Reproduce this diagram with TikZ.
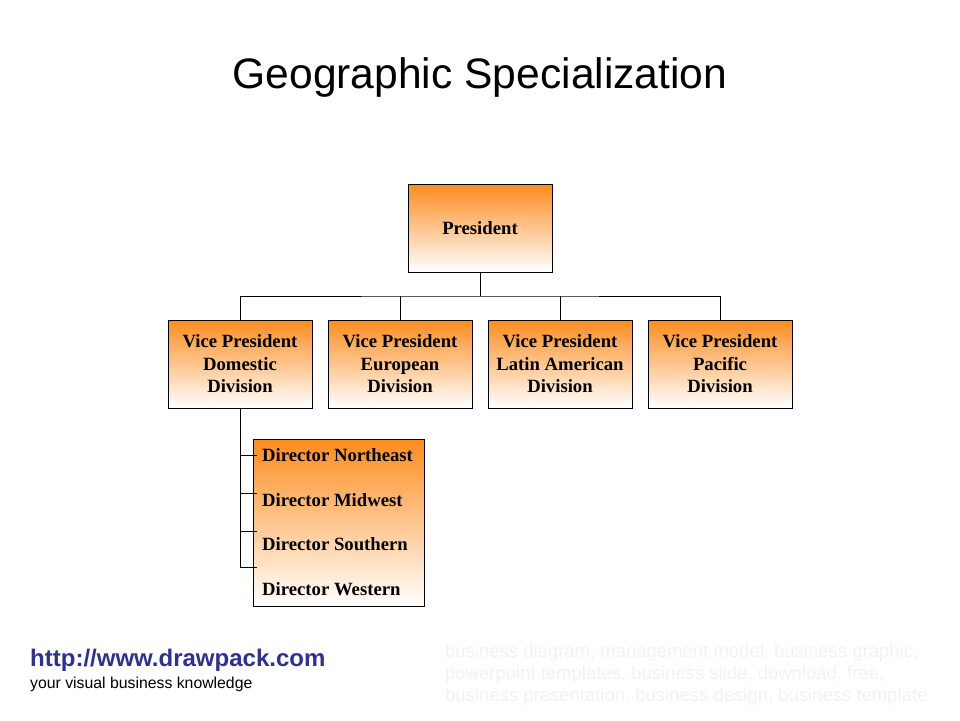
\documentclass[tikz,border=0pt]{standalone}
\usepackage{fontspec}
\setmainfont{Liberation Serif}
\setsansfont{Liberation Sans}
\usepackage{tikz}
\usetikzlibrary{calc}
\definecolor{boxorange}{RGB}{253, 140, 30}
\definecolor{urlblue}{RGB}{46, 49, 146}
\definecolor{faint}{RGB}{242, 242, 242}

\tikzset{
  unitbox/.style={draw=black, thin, top color=boxorange, bottom color=white,
    minimum width=144pt, minimum height=88pt, inner sep=0pt,
    align=center, font=\fontsize{18.7}{22.5}\selectfont\bfseries},
  dirtext/.style={anchor=west, inner sep=0pt, font=\fontsize{18.7}{22.5}\selectfont\bfseries},
  link/.style={draw=black, thin}
}

\begin{document}
\begin{tikzpicture}[x=1pt, y=-1pt]
  \useasboundingbox (0, 0) rectangle (960, 720);

  \node[font=\sffamily\fontsize{42.6}{48}\selectfont] (title) at (480, 77) {Geographic Specialization};

  \node[unitbox] (pres) at (480, 228) {President};

  \node[unitbox] (vpdom) at (240, 364) {Vice President\\Domestic\\Division};
  \node[unitbox] (vpeur) at (400, 364) {Vice President\\European\\Division};
  \node[unitbox] (vplat) at (560, 364) {Vice President\\Latin American\\Division};
  \node[unitbox] (vppac) at (720, 364) {Vice President\\Pacific\\Division};

  \coordinate (bus) at (480, 296);
  \draw[link] (pres.south) -- (bus);
  \draw[link] (vpdom.north) |- (bus) -| (vppac.north);
  \draw[link] (vpeur.north) -- (vpeur.north |- bus);
  \draw[link] (vplat.north) -- (vplat.north |- bus);

  % director box
  \node[draw=black, thin, top color=boxorange, bottom color=white,
    minimum width=171pt, minimum height=167pt, inner sep=0pt] (dirbox) at (338.5, 522.5) {};
  \node[dirtext] (dirne) at (262, 455) {Director Northeast};
  \node[dirtext] (dirmw) at (262, 500) {Director Midwest};
  \node[dirtext] (dirso) at (262, 544) {Director Southern};
  \node[dirtext] (dirwe) at (262, 589) {Director Western};

  \foreach \y [count=\i] in {455, 493, 531, 567}
    \coordinate (tick\i) at (257, \y);
  \draw[link] (vpdom.south) |- (tick4);
  \foreach \i in {1, 2, 3}
    \draw[link] (vpdom.south |- tick\i) -- (tick\i);

  % footer
  \node[anchor=west, inner sep=0pt, text=urlblue, font=\sffamily\bfseries\fontsize{24}{28}\selectfont] (url) at (30, 660) {http://www.drawpack.com};
  \node[anchor=west, inner sep=0pt, font=\sffamily\fontsize{15.8}{18}\selectfont] (motto) at (30, 684) {your visual business knowledge};
  \node[anchor=north west, inner sep=0pt, text=faint, align=left, font=\sffamily\fontsize{18.5}{22}\selectfont] (tags) at (445, 644)
    {business diagram, management model, business graphic,\\powerpoint templates, business slide, download, free,\\business presentation, business design, business template};
\end{tikzpicture}
\end{document}
